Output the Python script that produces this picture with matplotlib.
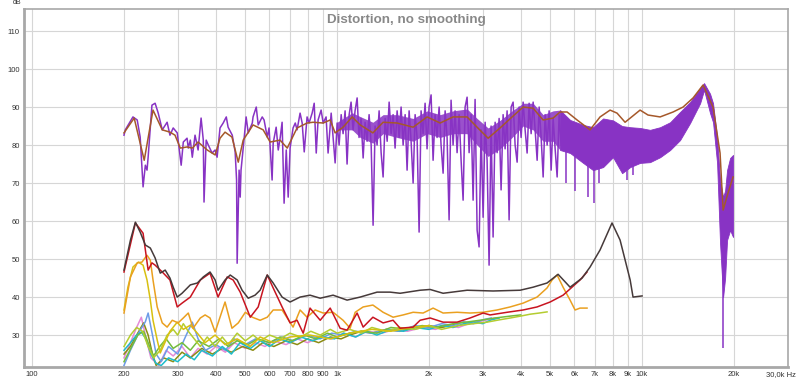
import matplotlib
matplotlib.use("Agg")
import matplotlib.pyplot as plt
from matplotlib.transforms import ScaledTranslation

# ---------------- data (Hz, dB) ----------------
# fundamental, unsmoothed (purple) - line part 200 Hz .. 5.4 kHz
purple_hz = [200, 202, 214, 221, 226, 231, 235, 238, 240, 247, 253, 259, 267, 277, 283, 290, 299, 308, 313, 322,
             325, 330, 335, 342, 350, 358, 364, 366, 372, 378, 389, 398, 404, 413, 423, 433, 439, 453, 463, 468,
             470, 477, 481, 484, 496, 503, 511, 527, 530, 543, 551, 568, 576, 590, 598, 612, 617, 631, 641, 651,
             660, 670, 681, 691, 701, 717, 729, 739, 756, 768, 780, 797, 809, 828, 841, 854, 866, 886, 900, 920,
             934, 956, 970, 985,
             1000, 1015, 1031, 1046, 1062, 1078, 1095, 1111, 1128, 1145,
             1163, 1180, 1198, 1217, 1235, 1254, 1273, 1293, 1312, 1332,
             1352, 1373, 1394, 1415, 1437, 1459, 1481, 1503, 1526, 1549,
             1573, 1597, 1621, 1646, 1671, 1696, 1722, 1748, 1775, 1802,
             1829, 1857, 1885, 1914, 1943, 1972, 2002, 2033, 2064, 2095,
             2127, 2160, 2192, 2226, 2260, 2294, 2329, 2364, 2400, 2437,
             2474, 2512, 2550, 2589, 2628, 2668, 2709, 2750, 2792, 2834,
             2878, 2921, 2966, 3011, 3057, 3103, 3150, 3198, 3247, 3297,
             3347, 3398, 3449, 3502, 3555, 3609, 3664, 3720, 3777, 3834,
             3893, 3952, 4012, 4073, 4135, 4198, 4262, 4327, 4393, 4460,
             4528, 4597, 4667, 4738, 4810, 4883, 4957, 5033, 5109, 5187,
             5266, 5346, 5428]
purple_db = [82.6, 84, 87.4, 86.6, 82.1, 69, 74.7, 73.4, 76.8, 90.5, 91, 88.4, 84, 86, 82.6, 84.5, 83.2, 74.7, 80.8, 81.8,
             79.2, 81.3, 76.8, 82.6, 78.7, 87.1, 81.3, 65, 81.3, 80, 77.9, 78.7, 76.8, 84.5, 85.8, 87.4, 84.7, 82.6, 78.2, 70.8,
             48.9, 73.4, 66.3, 73.4, 82.1, 87.4, 83.2, 85.8, 87.4, 90, 85.3, 87.4, 86.6, 82.1, 84.5, 70.8, 80.5, 84.7, 78.7, 82.1,
             86, 64.7, 78.7, 66.3, 79.2, 84.5, 85.8, 84, 88.4, 85.8, 78.2, 87.4, 85.8, 88.4, 91, 77.9, 86.6, 89.2, 85.8, 87.4,
             77.9, 88.4, 82.1, 75.3,
             85.8, 80, 88, 83, 89, 75, 88, 91.3, 84, 89,
             92.4, 82, 87, 76.6, 86, 81, 88, 80, 58.9, 85,
             80, 89, 78, 71.6, 87, 81, 91.3, 83, 88, 79.2,
             89, 82, 90, 80, 88, 73.4, 89, 81, 70, 88,
             82, 57.1, 89, 83, 91, 79, 90, 93.2, 76, 88,
             82, 90, 80, 72.6, 89, 82, 60.3, 91.8, 80, 89,
             78, 88, 76, 65.5, 90, 92.6, 78, 88, 65.5, 92,
             57.6, 53.2, 84, 61, 86, 76, 48.4, 85, 55.8, 86,
             78, 87, 68.2, 88, 79, 89, 60.3, 90, 91.3, 80,
             75.5, 90, 82, 91.3, 84, 77.9, 91, 83, 91.3, 84,
             76, 90, 82, 71.6, 88, 80, 89, 73.4, 87, 79,
             71.6, 88, 80]

# fundamental, dense band 1 kHz .. 5.4 kHz (upper / lower envelope)
band1_hz = [1000, 1120, 1190, 1310, 1415, 1573, 1775, 1973, 2177, 2400, 2668, 2877, 3127, 3422, 3748, 4072,
            4391, 4736, 5108, 5384]
band1_hi = [86, 88.5, 87.5, 86, 88, 88, 87, 89, 88, 89, 89.5, 87, 84.5, 86.5, 89, 91, 91, 88, 89, 89.2]
band1_lo = [84, 84, 82, 80.5, 83, 82, 81, 83, 82, 83, 83, 80, 77, 79, 82, 85, 84, 81, 81, 78.7]

# fundamental, dense band 5.4 kHz .. 20 kHz (upper / lower envelope)
band_hz = [5384, 5810, 6410, 6910, 7450, 8030, 8600, 9140, 9850, 10620, 11460, 12360, 13320, 14370, 15500,
           15970, 16710, 17090, 17620, 18020, 18440, 18720, 19000, 19440, 19880]
band_hi = [89.2, 86.6, 85.3, 84.7, 87, 86.5, 85, 84.7, 84.5, 84, 84.7, 86, 88.7, 91.3, 95,
           96.3, 93.5, 91, 82.1, 70.8, 66.3, 68, 73.4, 76.6, 77.4]
band_lo = [78.7, 77.9, 75.3, 73.4, 74.2, 76.8, 72.6, 74.2, 75.3, 75.5, 76.8, 78.7, 81.3, 85.8, 91,
           94.5, 88.4, 86, 75.3, 54.2, 40, 45, 55, 57.6, 55.8]
# isolated downward spikes inside the band
spike_hz = [5630, 6030, 6650, 6960, 7230, 8930, 9350, 18440]
spike_top = [80, 79, 77, 76, 77, 76, 77, 60]
spike_bot = [70, 68, 66.3, 64.7, 70, 70.8, 72, 26.6]

# fundamental, smoothed (brown)
brown_hz = [200, 216, 233, 249, 267, 283, 294, 306, 322, 335, 350, 375, 398, 413, 429, 452, 474, 492, 530, 572,
            603, 650, 686, 739, 797, 834, 900, 949, 985, 1046, 1120, 1190, 1310, 1415, 1573, 1775, 1973, 2177,
            2400, 2668, 2877, 3127, 3422, 3748, 4072, 4391, 4736, 5108, 5384, 5677, 6121, 6752, 7282, 7854,
            8279, 8795, 9850, 10460, 11460, 12640, 13630, 14700, 15850, 17090, 18020, 18440, 19140, 19880]
brown_db = [83.2, 87.1, 76, 89.2, 84, 83.4, 82.6, 79.2, 79.5, 79.2, 80.8, 78.7, 77.4, 81.8, 83.4, 82.1, 75.5, 81.3,
            85.3, 84, 80.8, 81.3, 79.2, 84.5, 85.8, 86, 85.8, 86.6, 83.2, 84.7, 87.4, 85.3, 83.2, 86, 85.8, 84.7,
            87.4, 85.8, 87.4, 87.4, 84.7, 81.8, 84.5, 87.4, 90, 89.7, 86.6, 87.1, 88.7, 88.7, 86.6, 84, 87.4, 89.2,
            88.4, 86, 89.2, 87.9, 87.4, 88.7, 90, 92.4, 95.8, 90, 77.9, 62.9, 67.4, 71.6]

# THD (dark grey)
thd_hz = [200, 210, 218, 226, 235, 244, 253, 263, 273, 283, 290, 299, 310, 330, 348, 364, 383, 398, 407, 429,
          446, 470, 488, 511, 538, 559, 590, 617, 660, 701, 756, 815, 880, 970, 1078, 1190, 1352, 1492, 1609,
          1871, 2018, 2226, 2668, 3246, 3981, 4391, 4880, 5303, 5807, 6358, 6752, 7282, 7970, 8470, 9140, 9340, 10000]
thd_db = [47.1, 55, 59.7, 57.1, 53.7, 52.9, 50.3, 46.3, 47.1, 45, 42.6, 40, 41, 43.2, 43.7, 45.3, 46.6, 44.5, 41.8,
          44.5, 45.8, 44.5, 41.8, 39.7, 40.5, 41.8, 45.8, 43.7, 40, 38.7, 40, 40.5, 39.7, 40.5, 39.2, 40, 41.3,
          41.3, 41, 41.8, 42, 41, 41.8, 41.6, 41.8, 42.6, 43.7, 46, 42.6, 45, 47.9, 52.4, 59.5, 55, 44.5, 40, 40.3]

# H2 (red)
h2_hz = [200, 218, 231, 240, 247, 253, 267, 283, 299, 310, 330, 356, 383, 407, 436, 456, 481, 519, 551, 590,
         617, 660, 701, 739, 774, 815, 880, 949, 1023, 1078, 1163, 1217, 1310, 1415, 1526, 1609, 1775, 1871,
         2018, 2226, 2474, 2730, 3011, 3174, 3609, 4072, 4525, 4994, 5508, 6260, 6600]
h2_db = [46.6, 59.5, 56.8, 47.1, 49, 48.4, 46.6, 44.5, 37.4, 38.4, 40, 44.5, 46.3, 40, 45.3, 44.5, 41.3, 34.7,
         37.4, 45.8, 42.4, 37.4, 33.2, 33.9, 30.5, 37.1, 33.9, 37.1, 31.8, 31.3, 35.8, 32.1, 34.7, 33.2, 33.9,
         31.8, 32.1, 33.9, 34.5, 33.4, 33.4, 34.5, 35.8, 35.3, 36, 36.6, 37.4, 38.7, 40.5, 44.5, 46.6]

# H3 (orange)
h3_hz = [200, 210, 221, 229, 238, 244, 249, 257, 267, 277, 288, 301, 313, 325, 337, 356, 369, 383, 398, 413,
         429, 452, 474, 500, 527, 559, 590, 617, 660, 686, 717, 756, 797, 847, 900, 970, 1046, 1103, 1146, 1217,
         1310, 1415, 1526, 1646, 1775, 1914, 2064, 2226, 2474, 2730, 3011, 3346, 3692, 4072, 4525, 4880, 5069,
         5266, 5508, 5807, 6030, 6260, 6600]
h3_db = [35.8, 45.3, 49, 49.2, 51, 49.7, 44.5, 37.4, 33.2, 32.1, 33.9, 33.2, 34.5, 35.8, 31.8, 34.5, 35.3, 34.5,
         30.8, 34.7, 38.7, 31.8, 33.2, 36, 34.7, 33.9, 34.7, 36.6, 36.6, 34.5, 32.1, 36.6, 34.7, 36.6, 35.8, 36,
         33.9, 31.8, 36, 37.4, 37.9, 36, 34.7, 35.3, 36, 35.8, 37.1, 35.8, 36, 35.8, 36, 36.6, 37.4, 38.4, 40,
         42.4, 44.5, 45.8, 42.6, 39.2, 36.6, 37.1, 37.1]

# H4 (yellow)
h4_hz = [200, 206, 214, 223, 231, 238, 244, 249, 257, 263, 283, 299, 313, 330, 348, 369, 398, 429, 470, 519,
         559, 617, 701, 815, 949, 1100, 1300, 1500, 1750, 2000]
h4_db = [36.6, 42.6, 47.9, 49.2, 48.4, 44.5, 39.2, 33.9, 28.7, 25.3, 31, 33.4, 31.5, 32.6, 30.5, 28, 30, 27.5,
         29, 27, 29.5, 28, 29.5, 30, 29, 30.5, 31.5, 31, 32, 32.5]

# H5 (yellow-green)
h5_hz = [200, 210, 220, 230, 240, 250, 263, 277, 290, 300, 313, 325, 340, 356, 375, 398, 420, 440, 470, 500,
         530, 560, 600, 650, 700, 760, 820, 880, 950, 1000, 1100, 1200, 1300, 1450, 1600, 1800, 2000, 2200,
         2500, 2800, 3100, 3400, 3700, 4000, 4300, 4600, 4880]
h5_db = [27, 30, 32, 31, 27, 24, 26, 30, 31.5, 30, 33, 31, 29, 27, 29.5, 27, 29.5, 27.5, 30.5, 28.5, 30, 28.5,
         30, 29, 30.5, 29.5, 31, 30, 31.5, 30.5, 31.5, 30.5, 32, 31, 32, 31.5, 32.5, 31.5, 32.5, 33, 33.4, 34,
         34.5, 35, 35.5, 35.8, 36.1]

# H6 (green)
h6_hz = [200, 212, 222, 232, 240, 250, 262, 275, 290, 310, 330, 350, 380, 410, 440, 470, 510, 550, 600, 650,
         710, 780, 850, 930, 1000, 1100, 1200, 1350, 1500, 1700, 1900, 2100, 2400, 2700, 3000, 3300, 3700, 4000]
h6_db = [23, 27, 30, 31, 28, 24.5, 27, 29, 26.5, 28, 26, 28.5, 27, 29, 27, 28.5, 27.5, 29, 28, 29.5, 28.5, 30,
         29, 30.5, 29.5, 30.5, 31, 30.5, 32, 31.5, 32.5, 32, 33, 33.5, 34, 34.5, 35, 35.3]

# H7 (teal)
h7_hz = [200, 210, 220, 228, 236, 245, 255, 265, 280, 300, 320, 340, 360, 390, 420, 450, 480, 520, 560, 600,
         650, 700, 760, 830, 900, 980, 1050, 1150, 1250, 1350, 1500, 1650, 1800, 2000, 2200, 2400, 2600, 2800,
         3000, 3200, 3400]
h7_db = [26, 28, 30, 30.8, 29, 25, 22.5, 22, 24, 23, 25, 23.5, 26, 24.5, 27, 25, 28, 26.5, 28.5, 27, 29, 28,
         29.5, 28.5, 29.5, 29, 30.5, 29.5, 31, 30, 31.5, 31, 32, 31.5, 32.5, 32, 33, 33.5, 33, 34, 34.5]

# H8 (light blue)
h8_hz = [200, 210, 225, 235, 240, 248, 255, 265, 280, 300, 320, 335, 350, 370, 400, 430, 460, 500, 540, 600,
         660, 720, 800, 880, 960, 1050, 1150, 1300, 1450, 1600, 1800, 2000, 2200, 2400, 2600, 2800, 3000, 3200]
h8_db = [22, 26, 31, 33.5, 35.8, 30, 25, 23, 27, 25, 30, 33.4, 29, 26, 27.5, 26, 29, 27.5, 29, 28, 29.5, 28.5,
         30, 29, 30.5, 30, 31, 30.5, 31.5, 31, 32.5, 32, 33, 32.5, 33.5, 33, 34, 34.5]

# H9 (olive)
h9_hz = [200, 210, 220, 232, 240, 248, 255, 270, 290, 310, 330, 360, 390, 420, 450, 490, 530, 570, 620, 680,
         740, 800, 870, 950, 1030, 1100, 1200, 1300, 1450, 1600, 1800, 2000, 2200, 2500]
h9_db = [25, 27, 30, 33.2, 30, 25, 22, 24, 23, 25.5, 24, 26.5, 25, 26.5, 25.5, 27, 26, 28, 27, 28.5, 27.5, 29,
         28, 29.5, 29, 30, 31, 30.5, 31.5, 31, 32, 32.5, 32, 33]

# H10 (pink)
h10_hz = [200, 210, 220, 228, 235, 245, 260, 275, 290, 310, 330, 350, 375, 400, 430, 460, 500, 540, 580, 620,
          680, 740, 800, 880, 960, 1050, 1150, 1250, 1400, 1550, 1700, 1900, 2100, 2300, 2500, 2700, 2900, 3100, 3300]
h10_db = [24, 28, 32, 34.7, 30, 24, 22, 26, 24.5, 27, 24, 26.5, 25, 27, 25.5, 28, 26.5, 28, 27, 28.5, 27.5, 29,
          28, 29.5, 29, 30.5, 29.5, 31, 30.5, 31.5, 31, 32, 31.5, 32.5, 32, 33, 33.5, 34, 34.5]

x_ticks = [100, 200, 300, 400, 500, 600, 700, 800, 900, 1000, 2000, 3000, 4000, 5000, 6000, 7000, 8000, 9000,
           10000, 20000, 30000]
x_labels = ["100", "200", "300", "400", "500", "600", "700", "800", "900", "1k", "2k", "3k", "4k", "5k", "6k",
            "7k", "8k", "9k", "10k", "20k", "30,0k Hz"]
y_ticks = [30, 40, 50, 60, 70, 80, 90, 100, 110]
y_labels = ["30", "40", "50", "60", "70", "80", "90", "100", "110"]
title = "Distortion, no smoothing"

# ---------------- plot ----------------
plt.rcParams['font.family'] = ['Liberation Sans', 'DejaVu Sans']
fig = plt.figure(figsize=(8, 3.8), dpi=100)
ax = fig.add_axes([24 / 800, 1 - 367 / 380, (788 - 24) / 800, (367 - 9) / 380])
ax.set_xscale('log')
ax.set_xlim(94, 30100)
ax.set_ylim(21.6, 115.8)

ax.set_xticks(x_ticks)
ax.set_xticklabels(x_labels)
ax.minorticks_off()
ax.set_yticks(y_ticks)
ax.set_yticklabels(y_labels)
ax.tick_params(length=0, labelsize=5.5, colors='#333333', pad=3)
last = ax.get_xticklabels()[-1]
last.set_transform(last.get_transform() + ScaledTranslation(-0.07, 0, fig.dpi_scale_trans))
ax.grid(True, color='#d6d6d6', lw=0.8)
ax.set_axisbelow(True)
for s in ax.spines.values():
    s.set_color('#a8a8a8')
    s.set_linewidth(1.2)
ax.spines['left'].set_linewidth(2)
ax.spines['bottom'].set_linewidth(2)

lw = 1.1
ax.plot(h10_hz, h10_db, color='#e58ad6', lw=lw)
ax.plot(h9_hz, h9_db, color='#8c8c14', lw=lw)
ax.plot(h8_hz, h8_db, color='#6c9ce8', lw=lw)
ax.plot(h7_hz, h7_db, color='#1ebccb', lw=lw)
ax.plot(h6_hz, h6_db, color='#74bc3c', lw=lw)
ax.plot(h5_hz, h5_db, color='#b4cc30', lw=lw)
ax.plot(h4_hz, h4_db, color='#d8c010', lw=lw)
ax.plot(h3_hz, h3_db, color='#eaa020', lw=lw)
ax.plot(h2_hz, h2_db, color='#c81420', lw=lw)
ax.plot(thd_hz, thd_db, color='#463a3a', lw=lw)

purple = '#8833c4'
ax.fill_between(band1_hz, band1_lo, band1_hi, color=purple, lw=0, alpha=0.85)
ax.plot(purple_hz, purple_db, color=purple, lw=lw)
ax.fill_between(band_hz, band_lo, band_hi, color=purple, lw=0.6, edgecolor=purple)
ax.vlines(spike_hz, spike_bot, spike_top, color=purple, lw=lw)
ax.plot(brown_hz, brown_db, color='#a5582a', lw=lw)

ax.text(0.5, 0.985, title, transform=ax.transAxes, ha='center', va='top',
        fontsize=9.6, fontweight='bold', color='#888888')
fig.text(17 / 800, 1 - 3 / 380, 'dB', ha='center', va='center', fontsize=5, color='#333333')

fig.savefig('out.png', dpi=100)
